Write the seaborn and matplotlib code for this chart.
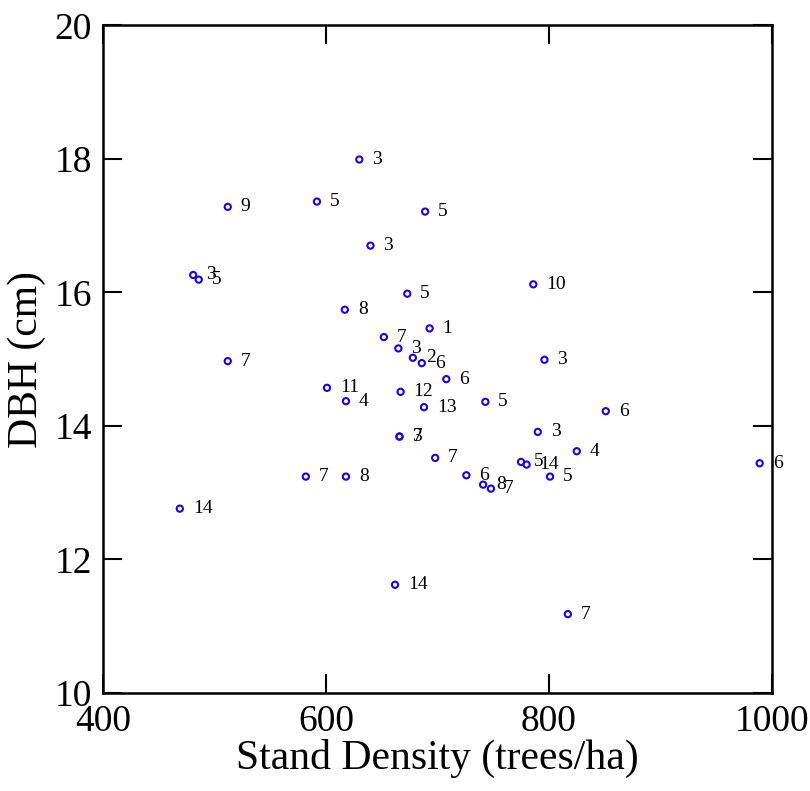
import matplotlib
matplotlib.use("Agg")
import matplotlib.pyplot as plt
import seaborn as sns
import pandas as pd

density = [630, 592, 689, 512, 640, 481, 486, 786, 673, 617,
           693, 652, 665, 678, 686, 708, 667, 688, 743, 618,
           601, 512, 796, 851, 790, 825, 775, 780, 801, 726,
           741, 748, 698, 666, 666, 582, 618, 469, 662, 817, 989]
dbh = [17.99, 17.36, 17.21, 17.28, 16.70, 16.26, 16.19, 16.12, 15.98, 15.74,
       15.46, 15.33, 15.16, 15.02, 14.94, 14.70, 14.51, 14.28, 14.36, 14.37,
       14.57, 14.97, 14.99, 14.22, 13.91, 13.62, 13.46, 13.42, 13.24, 13.26,
       13.12, 13.06, 13.52, 13.84, 13.84, 13.24, 13.24, 12.76, 11.62, 11.18, 13.44]
labels = ["3", "5", "5", "9", "3", "3", "5", "10", "5", "8",
          "1", "7", "3", "2", "6", "6", "12", "13", "5", "4",
          "11", "7", "3", "6", "3", "4", "5", "14", "5", "6",
          "8", "7", "7", "7", "3", "7", "8", "14", "14", "7", "6"]

x_ticks = [400, 600, 800, 1000]
y_ticks = [10, 12, 14, 16, 18, 20]

df = pd.DataFrame({"density": density, "dbh": dbh, "label": labels})

sns.set_style("ticks")
plt.rcParams["font.family"] = ["Liberation Serif", "DejaVu Serif"]
plt.rcParams["text.color"] = "black"
plt.rcParams["axes.labelcolor"] = "black"
plt.rcParams["xtick.color"] = "black"
plt.rcParams["ytick.color"] = "black"
plt.rcParams["axes.edgecolor"] = "black"

fig = plt.figure(figsize=(8.1, 7.91), dpi=100)
ax = fig.add_axes([0.127, 0.124, 0.826, 0.844])

sns.scatterplot(data=df, x="density", y="dbh", ax=ax, marker="o", s=20,
                facecolor="none", edgecolor="#1a00ff", linewidth=1.5, zorder=3)

for xv, yv, lab in zip(df["density"], df["dbh"], df["label"]):
    ax.annotate(lab, (xv, yv), xytext=(13, 0), textcoords="offset pixels",
                ha="left", va="center", fontsize=14, color="black")

ax.set_xlim(400, 1000)
ax.set_ylim(10, 20)
ax.set_xticks(x_ticks)
ax.set_yticks(y_ticks)
ax.tick_params(direction="in", length=14, width=1.5, labelsize=27,
               top=True, right=True, pad=8)
for sp in ax.spines.values():
    sp.set_linewidth(1.8)
    sp.set_visible(True)
ax.set_xlabel("Stand Density (trees/ha)", fontsize=30, labelpad=0)
ax.set_ylabel("DBH (cm)", fontsize=30, labelpad=6)

fig.savefig("out.png", dpi=100)
